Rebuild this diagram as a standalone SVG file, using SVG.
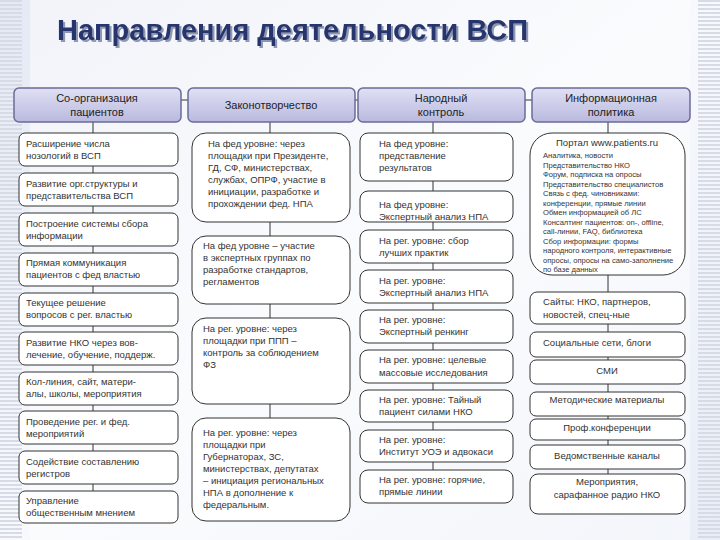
<svg xmlns="http://www.w3.org/2000/svg" width="720" height="540" viewBox="0 0 720 540">
<defs>
<linearGradient id="bg" x1="0" y1="0" x2="1" y2="1"><stop offset="0" stop-color="#e4e9f4"/><stop offset="0.5" stop-color="#f7f9fd"/><stop offset="1" stop-color="#e8edf7"/></linearGradient>
<linearGradient id="hd" x1="0" y1="0" x2="0" y2="1"><stop offset="0" stop-color="#e0e0f4"/><stop offset="1" stop-color="#b9b9df"/></linearGradient>
<pattern id="stripes" width="20" height="4" patternUnits="userSpaceOnUse"><rect width="20" height="2" fill="#d6dbe6"/></pattern>
<filter id="sh" x="-5%" y="-30%" width="110%" height="160%"><feDropShadow dx="2" dy="2" stdDeviation="0.6" flood-color="#8f98b3"/></filter>
</defs>
<style>
.h{fill:url(#hd);stroke:#6b6b99;stroke-width:1.5}
.b{fill:#fff;stroke:#333;stroke-width:1}
.ht{font-family:"Liberation Sans",Arial,sans-serif;font-size:11px;fill:#222;text-anchor:middle}
.t{font-family:"Liberation Sans",Arial,sans-serif;font-size:9.5px;fill:#333}
.s{font-family:"Liberation Sans",Arial,sans-serif;font-size:7.6px;fill:#333}
.c{stroke:#333;stroke-width:1;fill:none}
</style>
<rect width="720" height="540" fill="url(#bg)"/>
<rect x="0" y="0" width="22" height="540" fill="url(#stripes)"/>
<rect x="698" y="0" width="22" height="540" fill="url(#stripes)"/>
<rect x="30" y="0" width="660" height="540" fill="#fdfdfe" opacity="0.5"/>
<text x="57" y="40" font-family="Liberation Sans,Arial,sans-serif" font-weight="bold" font-size="29" fill="#27346e" filter="url(#sh)">Направления деятельности ВСП</text>
<g id="connectors" class="c">
<path d="M181 100H188M355 100H358M525 100H532"/>
<path d="M93 122V491"/>
<path d="M270 122V418"/>
<path d="M433 122V470"/>
<path d="M608 122V474"/>
</g>
<g id="h1"><rect class="h" x="14" y="88" width="167" height="34" rx="5"/><text class="ht" x="97" y="102">Со-организация</text><text class="ht" x="97" y="116">пациентов</text></g>
<g id="h2"><rect class="h" x="188" y="88" width="167" height="34" rx="5"/><text class="ht" x="271" y="109">Законотворчество</text></g>
<g id="h3"><rect class="h" x="358" y="88" width="167" height="34" rx="5"/><text class="ht" x="441" y="102">Народный</text><text class="ht" x="441" y="116">контроль</text></g>
<g id="h4"><rect class="h" x="532" y="88" width="158" height="34" rx="5"/><text class="ht" x="611" y="102">Информационная</text><text class="ht" x="611" y="116">политика</text></g>

<g id="a1"><rect class="b" x="19" y="133" width="159" height="33" rx="6"/><text class="t" x="26" y="147">Расширение числа</text><text class="t" x="26" y="159">нозологий в ВСП</text></g>
<g id="a2"><rect class="b" x="19" y="173" width="159" height="33" rx="6"/><text class="t" x="26" y="187">Развитие орг.структуры и</text><text class="t" x="26" y="199">представительства ВСП</text></g>
<g id="a3"><rect class="b" x="19" y="213" width="159" height="33" rx="6"/><text class="t" x="26" y="227">Построение системы сбора</text><text class="t" x="26" y="239">информации</text></g>
<g id="a4"><rect class="b" x="19" y="253" width="159" height="33" rx="6"/><text class="t" x="26" y="266">Прямая коммуникация</text><text class="t" x="26" y="278">пациентов с фед властью</text></g>
<g id="a5"><rect class="b" x="19" y="293" width="159" height="33" rx="6"/><text class="t" x="26" y="306">Текущее решение</text><text class="t" x="26" y="318">вопросов с рег. властью</text></g>
<g id="a6"><rect class="b" x="19" y="332" width="159" height="33" rx="6"/><text class="t" x="26" y="346">Развитие НКО через вов-</text><text class="t" x="26" y="358">лечение, обучение, поддерж.</text></g>
<g id="a7"><rect class="b" x="19" y="372" width="159" height="33" rx="6"/><text class="t" x="26" y="385">Кол-линия, сайт, матери-</text><text class="t" x="26" y="397">алы, школы, мероприятия</text></g>
<g id="a8"><rect class="b" x="19" y="411" width="159" height="33" rx="6"/><text class="t" x="26" y="425">Проведение рег. и фед.</text><text class="t" x="26" y="437">мероприятий</text></g>
<g id="a9"><rect class="b" x="19" y="451" width="159" height="33" rx="6"/><text class="t" x="26" y="465">Содействие составлению</text><text class="t" x="26" y="477">регистров</text></g>
<g id="a10"><rect class="b" x="19" y="491" width="159" height="32" rx="6"/><text class="t" x="26" y="504">Управление</text><text class="t" x="26" y="516">общественным мнением</text></g>

<g id="b1"><rect class="b" x="192" y="133" width="158" height="89" rx="14"/><text class="t" x="208" y="147">На фед уровне: через</text><text class="t" x="208" y="159">площадки при Президенте,</text><text class="t" x="208" y="171">ГД, СФ, министерствах,</text><text class="t" x="208" y="183">службах, ОПРФ, участие в</text><text class="t" x="208" y="195">инициации, разработке и</text><text class="t" x="208" y="207">прохождении фед. НПА</text></g>
<g id="b2"><rect class="b" x="192" y="236" width="158" height="68" rx="14"/><text class="t" x="203" y="249">На фед уровне – участие</text><text class="t" x="203" y="261">в экспертных группах по</text><text class="t" x="203" y="273">разработке стандартов,</text><text class="t" x="203" y="285">регламентов</text></g>
<g id="b3"><rect class="b" x="192" y="318" width="158" height="86" rx="14"/><text class="t" x="203" y="332">На рег. уровне: через</text><text class="t" x="203" y="344">площадки при ППП –</text><text class="t" x="203" y="356">контроль за соблюдением</text><text class="t" x="203" y="368">ФЗ</text></g>
<g id="b4"><rect class="b" x="192" y="418" width="158" height="103" rx="14"/><text class="t" x="203" y="436">На рег. уровне: через</text><text class="t" x="203" y="448">площадки при</text><text class="t" x="203" y="460">Губернаторах, ЗС,</text><text class="t" x="203" y="472">министерствах, депутатах</text><text class="t" x="203" y="484">– инициация региональных</text><text class="t" x="203" y="496">НПА в дополнение к</text><text class="t" x="203" y="508">федеральным.</text></g>

<g id="c1"><rect class="b" x="360" y="133" width="153" height="48" rx="8"/><text class="t" x="379" y="147">На фед уровне:</text><text class="t" x="379" y="159">представление</text><text class="t" x="379" y="171">результатов</text></g>
<g id="c2"><rect class="b" x="360" y="191" width="153" height="31" rx="8"/><text class="t" x="379" y="208">На фед уровне:</text><text class="t" x="379" y="220">Экспертный анализ НПА</text></g>
<g id="c3"><rect class="b" x="360" y="230" width="153" height="33" rx="8"/><text class="t" x="379" y="244">На рег. уровне: сбор</text><text class="t" x="379" y="256">лучших практик</text></g>
<g id="c4"><rect class="b" x="360" y="270" width="153" height="33" rx="8"/><text class="t" x="379" y="284">На рег. уровне:</text><text class="t" x="379" y="296">Экспертный анализ НПА</text></g>
<g id="c5"><rect class="b" x="360" y="310" width="153" height="33" rx="8"/><text class="t" x="379" y="323">На рег. уровне:</text><text class="t" x="379" y="335">Экспертный ренкинг</text></g>
<g id="c6"><rect class="b" x="360" y="350" width="153" height="33" rx="8"/><text class="t" x="379" y="363">На рег. уровне: целевые</text><text class="t" x="379" y="376">массовые исследования</text></g>
<g id="c7"><rect class="b" x="360" y="390" width="153" height="32" rx="8"/><text class="t" x="379" y="403">На рег. уровне: Тайный</text><text class="t" x="379" y="415">пациент силами НКО</text></g>
<g id="c8"><rect class="b" x="360" y="430" width="153" height="32" rx="8"/><text class="t" x="379" y="443">На рег. уровне:</text><text class="t" x="379" y="455">Институт УОЭ и адвокаси</text></g>
<g id="c9"><rect class="b" x="360" y="470" width="153" height="33" rx="8"/><text class="t" x="379" y="483">На рег. уровне: горячие,</text><text class="t" x="379" y="495">прямые линии</text></g>

<g id="d1"><rect class="b" x="530" y="133" width="155" height="142" rx="22"/><text class="t" x="607" y="146" text-anchor="middle">Портал www.patients.ru</text>
<text class="s" x="543" y="158">Аналитика, новости</text><text class="s" x="543" y="167.5">Представительство НКО</text><text class="s" x="543" y="177">Форум, подписка на опросы</text><text class="s" x="543" y="186.5">Представительство специалистов</text><text class="s" x="543" y="196">Связь с фед. чиновниками:</text><text class="s" x="543" y="205.5">конференции, прямые линии</text><text class="s" x="543" y="215">Обмен информацией об ЛС</text><text class="s" x="543" y="224.5">Консалтинг пациентов: on-, offline,</text><text class="s" x="543" y="234">call-линии, FAQ, библиотека</text><text class="s" x="543" y="243.5">Сбор информации: формы</text><text class="s" x="543" y="253">народного контроля, интерактивные</text><text class="s" x="543" y="262.5">опросы, опросы на само-заполнение</text><text class="s" x="543" y="272">по базе данных</text></g>
<g id="d2"><rect class="b" x="530" y="292" width="155" height="32" rx="7"/><text class="t" x="543" y="305">Сайты: НКО, партнеров,</text><text class="t" x="543" y="318">новостей, спец-ные</text></g>
<g id="d3"><rect class="b" x="530" y="332" width="155" height="25" rx="6"/><text class="t" x="543" y="346">Социальные сети, блоги</text></g>
<g id="d4"><rect class="b" x="530" y="360" width="155" height="24" rx="6"/><text class="t" x="607" y="374" text-anchor="middle">СМИ</text></g>
<g id="d5"><rect class="b" x="530" y="392" width="155" height="24" rx="6"/><text class="t" x="607" y="403" text-anchor="middle">Методические материалы</text></g>
<g id="d6"><rect class="b" x="530" y="419" width="155" height="21" rx="6"/><text class="t" x="607" y="431" text-anchor="middle">Проф.конференции</text></g>
<g id="d7"><rect class="b" x="530" y="445" width="155" height="24" rx="6"/><text class="t" x="607" y="459" text-anchor="middle">Ведомственные каналы</text></g>
<g id="d8"><rect class="b" x="530" y="474" width="155" height="40" rx="8"/><text class="t" x="607" y="485" text-anchor="middle">Мероприятия,</text><text class="t" x="607" y="498" text-anchor="middle">сарафанное радио НКО</text></g>
</svg>
